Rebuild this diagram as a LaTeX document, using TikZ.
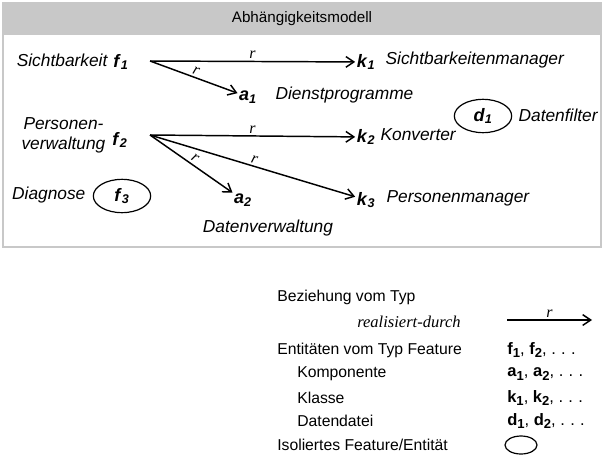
\documentclass[tikz,border=0pt]{standalone}
\usepackage{fontspec}
\setmainfont{Liberation Sans}
\newfontfamily\relfont{Liberation Serif}
\usetikzlibrary{arrows.meta, shapes.geometric}

\definecolor{framegray}{RGB}{200,200,200}

% entity letters: bold italic in the model, bold upright in the legend
\newcommand{\ent}[2]{\textbf{\textit{#1}}\textsubscript{\textbf{\textit{#2}}}}
\newcommand{\lent}[2]{\textbf{#1}\raisebox{-0.4ex}{\fontsize{9.8}{10}\selectfont\textbf{#2}}}
\newcommand{\spdots}{.\hspace{0.32em}.\hspace{0.32em}.}

\begin{document}
\begin{tikzpicture}[x=0.75pt, y=-0.75pt,
	lbl/.style={font=\fontsize{13}{15}\selectfont\itshape, inner sep=1pt},
	entity/.style={font=\fontsize{13.5}{15}\selectfont, inner sep=1pt},
	iso/.style={entity, ellipse, draw, line width=0.9pt, minimum width=43pt, minimum height=25pt},
	rel/.style={line width=1.1pt, -{Straight Barb[length=6pt, width=8pt]}},
	rlabel/.style={font=\relfont\itshape\fontsize{12}{14}\selectfont, inner sep=1.5pt},
	legend/.style={font=\fontsize{11.8}{14}\selectfont, anchor=west, inner sep=0pt},
	legend ent/.style={legend, font=\fontsize{12.4}{14}\selectfont}]
		\useasboundingbox (0,0) rectangle (602,460);

		% model frame with title bar
		\fill [framegray] (3,3) rectangle (601,35);
		\draw [framegray, line width=0.9pt] (3,3) rectangle (601,247);
		\node (title) [font=\fontsize{11.4}{14}\selectfont] at (302,19) {Abhängigkeitsmodell};

		% features
		\node (f1) [entity] at (121,62) {\ent{f}{1}};
		\node (f1 name) [lbl, anchor=east] at (109,60) {Sichtbarkeit};
		\node (f2) [entity] at (120,140) {\ent{f}{2}};
		\node (f2 name) [lbl, anchor=east, align=center] at (107,135) {Personen-\\verwaltung};
		\node (f3) [iso] at (122,196) {\ent{f}{3}};
		\node (f3 name) [lbl, anchor=east] at (87,195) {Diagnose};

		% components, classes, data files
		\node (a1) [entity] at (248,97) {\ent{a}{1}};
		\node (a1 name) [lbl, anchor=west] at (274,95) {Dienstprogramme};
		\node (a2) [entity] at (243,200) {\ent{a}{2}};
		\node (a2 name) [lbl] at (268,228) {Datenverwaltung};

		\node (k1) [entity] at (366,62) {\ent{k}{1}};
		\node (k1 name) [lbl, anchor=west] at (384,60) {Sichtbarkeitenmanager};
		\node (k2) [entity] at (366,137) {\ent{k}{2}};
		\node (k2 name) [lbl, anchor=west] at (379,135) {Konverter};
		\node (k3) [entity] at (366,200) {\ent{k}{3}};
		\node (k3 name) [lbl, anchor=west] at (385,198) {Personenmanager};

		\node (d1) [iso] at (483,116) {\ent{d}{1}};
		\node (d1 name) [lbl, anchor=west] at (517,115) {Datenfilter};

		% realisiert-durch
		\coordinate (f1 out) at (150,61);
		\coordinate (f2 out) at (150,135);
		\path [rel](f1 out)
		edge node[rlabel, above]{r}(k1)
		edge node[rlabel, sloped, above]{r}(a1);
		\path [rel](f2 out)
		edge node[rlabel, above]{r}(k2)
		edge node[rlabel, sloped, above]{r}(a2)
		edge node[rlabel, sloped, above]{r}(k3);

		% legend
		\node (lg rel) [legend] at (277,297) {Beziehung vom Typ};
		\node (lg rel name) [legend, font=\relfont\itshape\fontsize{12.4}{14}\selectfont] at (357,322) {realisiert-durch};
		\coordinate (lg from) at (507,320);
		\coordinate (lg to) at (592,320);
		\draw [rel](lg from) -- node[rlabel, above]{r}(lg to);

		\node (lg feat) [legend] at (277,350) {Entitäten vom Typ Feature};
		\node (lg f) [legend ent] at (507,350) {\lent{f}{1}, \lent{f}{2}, \spdots};
		\node (lg comp) [legend] at (297,374) {Komponente};
		\node (lg a) [legend ent] at (507,374) {\lent{a}{1}, \lent{a}{2}, \spdots};
		\node (lg class) [legend] at (297,398) {Klasse};
		\node (lg k) [legend ent] at (507,398) {\lent{k}{1}, \lent{k}{2}, \spdots};
		\node (lg file) [legend] at (297,421) {Datendatei};
		\node (lg d) [legend ent] at (507,421) {\lent{d}{1}, \lent{d}{2}, \spdots};
		\node (lg iso) [legend] at (277,445) {Isoliertes Feature/Entität};
		\node (lg oval) [ellipse, draw, line width=0.9pt, minimum width=24pt, minimum height=13.5pt] at (521,445) {};
	\end{tikzpicture}
\end{document}
